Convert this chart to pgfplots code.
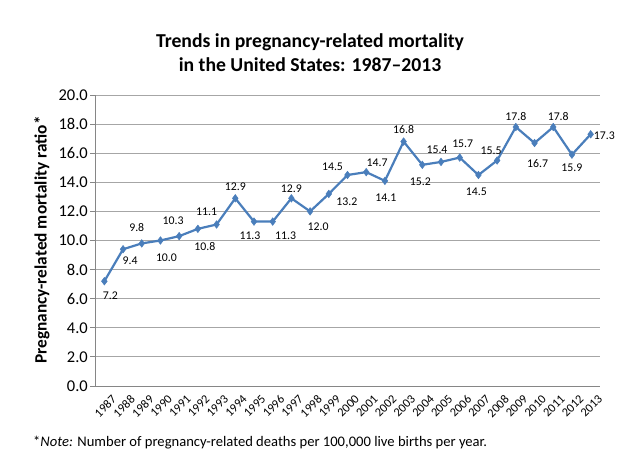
\documentclass[border=0pt]{standalone}
\usepackage{pgfplots}
\pgfplotsset{compat=1.18}
\usepackage{fontspec}
\setmainfont{Carlito}
\definecolor{lineblue}{HTML}{4A7EBB}
\definecolor{gridgray}{HTML}{A6A6A6}
\definecolor{axisgray}{HTML}{868686}
\begin{document}
\begin{tikzpicture}[x=1pt,y=1pt]
\path[use as bounding box] (0,0) rectangle (640,473);
\begin{axis}[
  at={(95pt,87pt)}, anchor=south west,
  scale only axis, width=505pt, height=291pt,
  xmin=-0.5, xmax=26.5, ymin=0, ymax=20,
  axis lines*=left, axis line style={axisgray,-, line width=0.8pt},
  ytick={0,2,...,20},
  ymajorgrids, grid style={gridgray, line width=0.8pt},
  yticklabel style={font=\fontsize{16.5}{18}\selectfont, inner sep=2pt},
  /pgf/number format/assume math mode=true,
  yticklabel={\pgfmathprintnumber[fixed,fixed zerofill,precision=1]{\tick}},
  xtick={0,...,26},
  xticklabels={1987,1988,1989,1990,1991,1992,1993,1994,1995,1996,1997,1998,1999,2000,2001,2002,2003,2004,2005,2006,2007,2008,2009,2010,2011,2012,2013},
  xticklabel style={font=\fontsize{12.3}{14}\selectfont, rotate=45, anchor=north east, inner sep=0pt, xshift=2.5pt, yshift=-7pt},
  xtick style={draw=none},
  minor xtick={-0.5,0.5,...,26.5},
  minor tick length=5pt,
  every minor tick/.style={axisgray, line width=0.8pt},
  tick align=outside,
  major tick length=5pt,
  ytick style={axisgray, line width=0.8pt},
  clip=false,
]
\addplot[color=lineblue, line width=2.2pt, mark=diamond*, mark size=3.8pt,
  mark options={fill=lineblue, draw=lineblue, line width=0.5pt},
  point meta=y,
  visualization depends on={value \thisrow{pos}\as\anc},
  visualization depends on={value \thisrow{dx}\as\ddx},
  visualization depends on={value \thisrow{dy}\as\ddy},
  nodes near coords={\pgfmathprintnumber[fixed,fixed zerofill,precision=1,assume math mode=true]{\pgfplotspointmeta}},
  every node near coord/.append style={anchor=\anc, font=\fontsize{11.8}{14}\selectfont, text=black, inner sep=7pt, xshift=\ddx pt, yshift=\ddy pt},
] table[x=x, y=y] {
x y pos dx dy
0 7.2 north 6 -3
1 9.4 north 7 0
2 9.8 south -5 5
3 10.0 north 6 -6
4 10.3 south -6 4
5 10.8 north 7 -6
6 11.1 south -10 2
7 12.9 south 0 0
8 11.3 north -4 -3
9 11.3 north 13 -3
10 12.9 south 0 -2
11 12.0 north 8 -4.5
12 13.2 north 18 3
13 14.5 south -15 -3
14 14.7 south 11 -2
15 14.1 north 1 -6
16 16.8 south 0 1
17 15.2 north -2 -6
18 15.4 south -4 1
19 15.7 south 3 3
20 14.5 north -2 -6
21 15.5 south -6 -1
22 17.8 south 0 -1
23 16.7 north 3 -9
24 17.8 south 5 -1
25 15.9 north 0 -2
26 17.3 west -4 -1.5
};
\end{axis}
\node[font=\bfseries\fontsize{19.7}{24}\selectfont, align=center] at (310,420) {Trends in pregnancy-related mortality\\in the United States: 1987--2013};
\node[font=\bfseries\fontsize{17.3}{18}\selectfont, rotate=90] at (42,233) {Pregnancy-related mortality ratio*};
\node[font=\fontsize{14.6}{16}\selectfont, anchor=west, inner sep=0pt] at (33,30) {*\textit{Note:} Number of pregnancy-related deaths per 100,000 live births per year.};
\end{tikzpicture}
\end{document}
